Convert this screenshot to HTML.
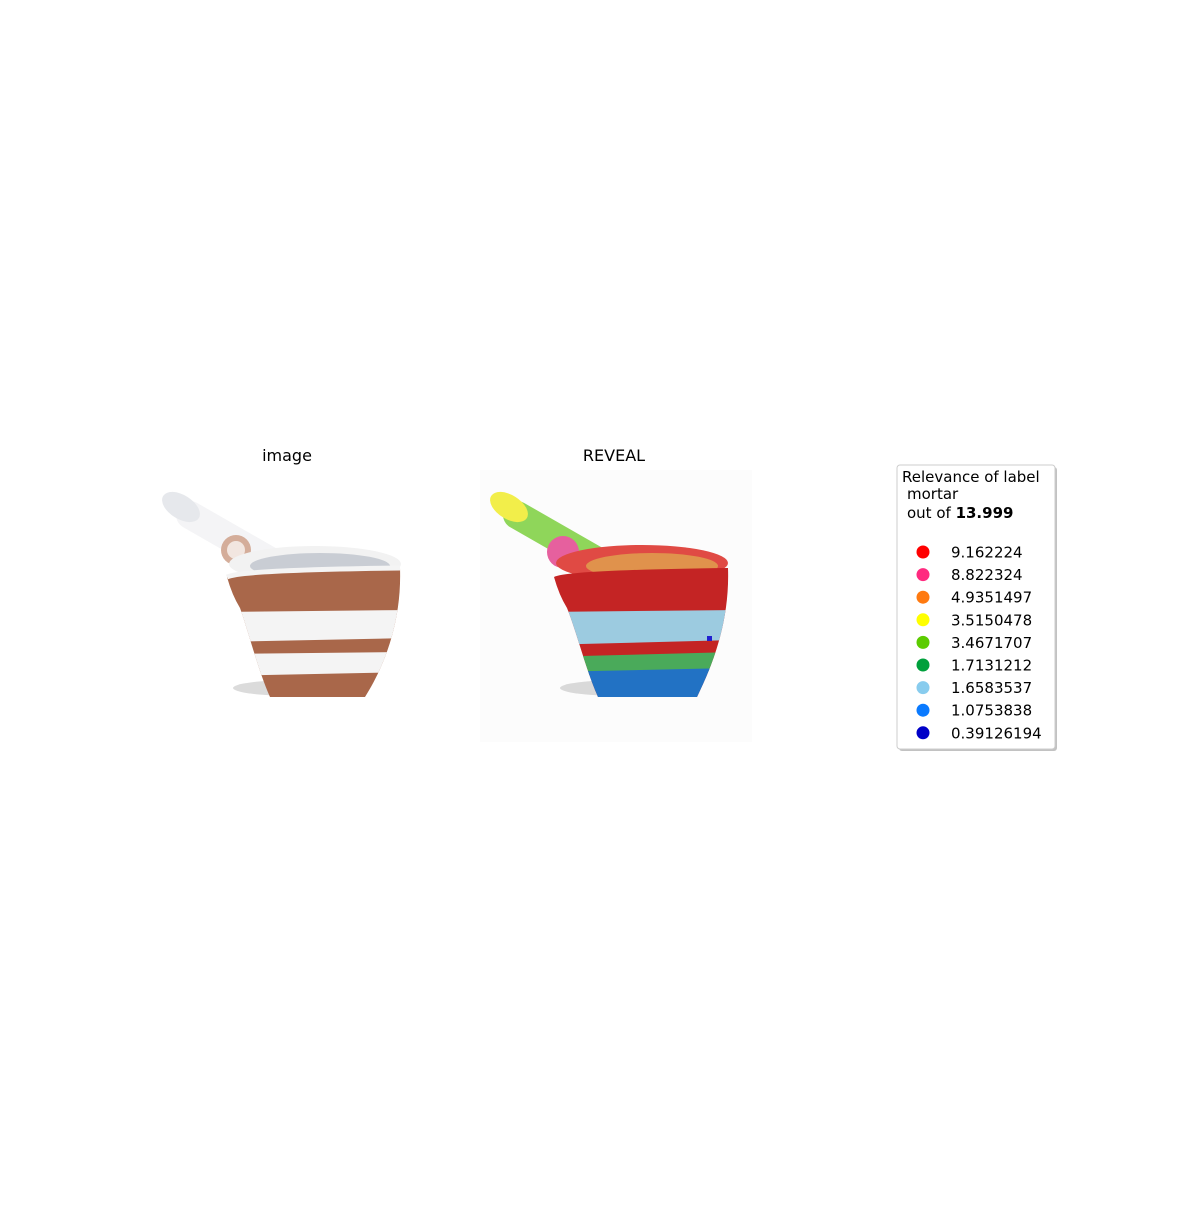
<!DOCTYPE html>
<html><head><meta charset="utf-8"><style>
html,body{margin:0;padding:0;background:#fff;}
svg text{font-family:"DejaVu Sans","Liberation Sans",sans-serif;}
</style></head><body>
<svg width="1200" height="1200" viewBox="0 0 1200 1200" xmlns="http://www.w3.org/2000/svg">
<defs>
<clipPath id="bodyL"><path d="M227,577 Q240,570 400,568 C402,625 382,670 365,697 L270,697 C258,670 248,630 240,608 Q232,595 227,577 Z"/></clipPath>
<clipPath id="bodyR"><path d="M554,577 Q567,570 728,568 C730,625 710,670 697,697 L598,697 C586,670 576,630 567,608 Q559,595 554,577 Z"/></clipPath>
</defs>
<rect width="1200" height="1200" fill="#fff"/>
<rect x="480" y="470" width="272" height="272" fill="#fcfcfc"/>
<text x="287" y="461" font-size="16" text-anchor="middle">image</text>
<text x="614" y="461" font-size="16" text-anchor="middle">REVEAL</text>

<g>
<ellipse cx="295" cy="688" rx="62" ry="8" fill="#999" opacity="0.35"/>
<line x1="190" y1="515" x2="300" y2="578" stroke="#f4f4f6" stroke-width="28" stroke-linecap="round"/>
<ellipse cx="181" cy="507" rx="12" ry="21" transform="rotate(-58 181 507)" fill="#e6e8ec"/>
<circle cx="236" cy="550" r="15" fill="#d4ad9a"/><circle cx="236" cy="550" r="9" fill="#f2e6e0"/>
<ellipse cx="315" cy="564" rx="86" ry="18" fill="#f2f2f2"/>
<ellipse cx="320" cy="566" rx="70" ry="13" fill="#c9cdd4"/>
<g clip-path="url(#bodyL)">
<rect x="220" y="540" width="190" height="170" fill="#a9674a"/>
<path d="M220,612 L410,610 L410,638 L220,642 Z" fill="#f4f4f4"/>
<path d="M220,654 L410,652 L410,672 L220,676 Z" fill="#f4f4f4"/>
</g>
<path d="M227,577 Q240,570 400,568" stroke="#f4f4f4" stroke-width="5" fill="none"/>
</g>

<g>
<ellipse cx="622" cy="688" rx="62" ry="8" fill="#999" opacity="0.35"/>
<line x1="517" y1="515" x2="627" y2="578" stroke="#8fd65a" stroke-width="28" stroke-linecap="round"/>
<ellipse cx="509" cy="507" rx="12" ry="21" transform="rotate(-58 509 507)" fill="#f2ee4a"/>
<circle cx="563" cy="552" r="16" fill="#e6609e"/>
<ellipse cx="642" cy="563" rx="86" ry="18" fill="#e04a44"/>
<ellipse cx="652" cy="566" rx="66" ry="13" fill="#e0924c"/>
<g clip-path="url(#bodyR)">
<rect x="545" y="540" width="190" height="170" fill="#c42424"/>
<path d="M545,612 L735,610 L735,640 L545,645 Z" fill="#9ccbe0"/>
<path d="M545,657 L735,652 L735,672 L545,676 Z" fill="#4aaa5a"/>
<path d="M545,672 L735,668 L735,710 L545,710 Z" fill="#2272c4"/>
</g>
<rect x="707" y="636" width="5" height="5" fill="#2020d0"/>
</g>

<g>
<rect x="899" y="467" width="158" height="284" rx="3" fill="#999" opacity="0.6"/>
<rect x="897" y="465" width="158" height="284" rx="3" fill="#fff" stroke="#ccc" stroke-width="1"/>
<text x="902" y="482" font-size="15">Relevance of label</text>
<text x="907" y="499" font-size="15">mortar</text>
<text x="907" y="518" font-size="15">out of <tspan font-weight="bold">13.999</tspan></text>
<g id="entries"></g>
</g>
</svg>
<script>
const values = ["9.162224","8.822324","4.9351497","3.5150478","3.4671707","1.7131212","1.6583537","1.0753838","0.39126194"];
const colors = ["#ff0000","#ff2a7f","#ff7a10","#ffff00","#5ccc00","#00a03c","#88ccee","#0a7aff","#0000c8"];
const g = document.getElementById('entries');
const NS = "http://www.w3.org/2000/svg";
values.forEach((v,i)=>{
  const y = 552 + i*22.6;
  const c = document.createElementNS(NS,'circle');
  c.setAttribute('cx',923); c.setAttribute('cy',y); c.setAttribute('r',6.5); c.setAttribute('fill',colors[i]);
  
  
  g.appendChild(c);
  const t = document.createElementNS(NS,'text');
  t.setAttribute('x',951); t.setAttribute('y',y+5.5); t.setAttribute('font-size',15);
  t.textContent = v;
  
  
  g.appendChild(t);
});
</script>
</body></html>
